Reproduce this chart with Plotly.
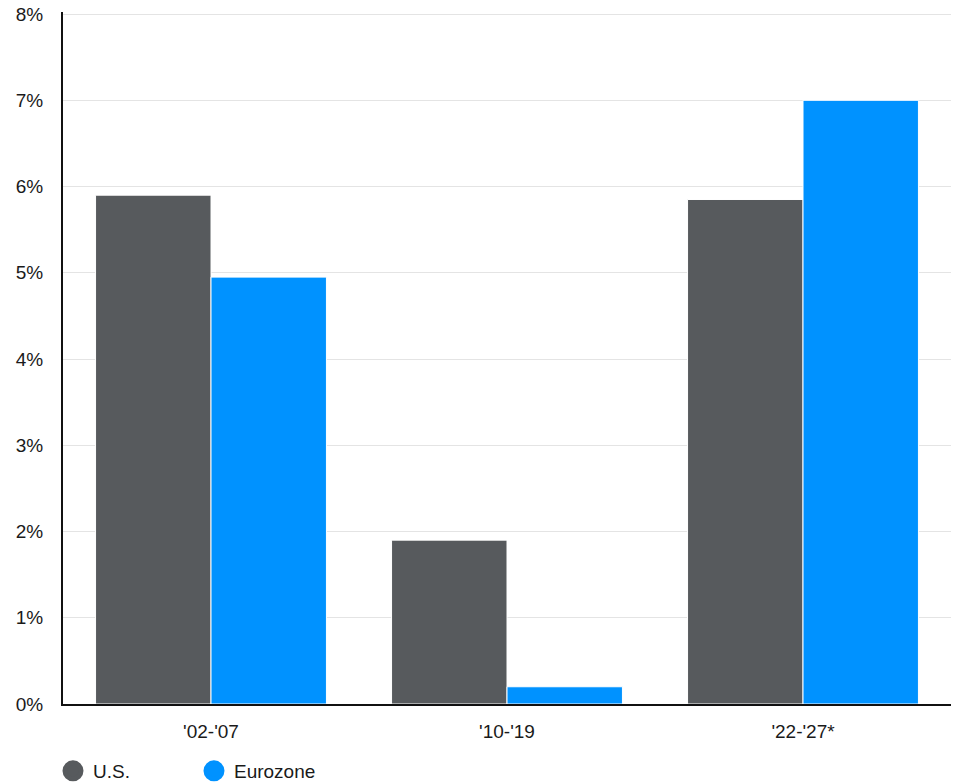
import plotly.graph_objects as go

categories = ["'02-'07", "'10-'19", "'22-'27*"]
us_values = [5.9, 1.9, 5.85]
ez_values = [4.95, 0.2, 7.0]
series_names = ["U.S.", "Eurozone"]
y_ticks = [0, 1, 2, 3, 4, 5, 6, 7, 8]
y_tick_labels = [f"{v}%" for v in y_ticks]

US_COLOR = "#575a5d"
EZ_COLOR = "#0092ff"
FONT = "Liberation Sans, Arial, sans-serif"

fig = go.Figure()
fig.add_trace(go.Bar(x=categories, y=us_values, name=series_names[0],
                     marker=dict(color=US_COLOR, line=dict(color="white", width=1)),
                     showlegend=False))
fig.add_trace(go.Bar(x=categories, y=ez_values, name=series_names[1],
                     marker=dict(color=EZ_COLOR, line=dict(color="white", width=1)),
                     showlegend=False))
# legend entries with circle markers
for name, col in zip(series_names, [US_COLOR, EZ_COLOR]):
    fig.add_trace(go.Scatter(x=[None], y=[None], mode="markers", name=name,
                             marker=dict(symbol="circle", size=16, color=col,
                                         line=dict(color=col, width=5))))

fig.update_layout(
    width=953, height=784,
    margin=dict(l=63, r=2, t=12, b=80, autoexpand=False),
    plot_bgcolor="white", paper_bgcolor="white",
    font=dict(family=FONT, size=19, color="#1a1a1a"),
    barmode="group", bargap=0.22, bargroupgap=0,
    legend=dict(orientation="h", xref="container", x=0.0556, xanchor="left",
                yref="container", y=0.0166, yanchor="middle",
                font=dict(size=19, color="#1a1a1a"), entrywidth=96,
                entrywidthmode="pixels", itemsizing="trace"),
)
fig.update_xaxes(showline=True, linecolor="#111", linewidth=2, ticks="",
                 tickfont=dict(size=19), ticklabelstandoff=9, automargin=False)
# range slightly above 8 so the top gridline is drawn
fig.update_yaxes(range=[0, 8.024], tickmode="array", tickvals=y_ticks, ticktext=y_tick_labels,
                 showgrid=True, gridcolor="#e4e4e4", gridwidth=1, showline=True,
                 linecolor="#111", linewidth=2, zeroline=False, tickfont=dict(size=19),
                 ticks="", ticklabelstandoff=14, automargin=False,
                 ticklabeloverflow="allow")

# remove the browser's default 8px body margin so the figure sits at the page origin
fig.write_html("out.html", config={"displayModeBar": False},
               post_script="document.body.style.margin='0';")
